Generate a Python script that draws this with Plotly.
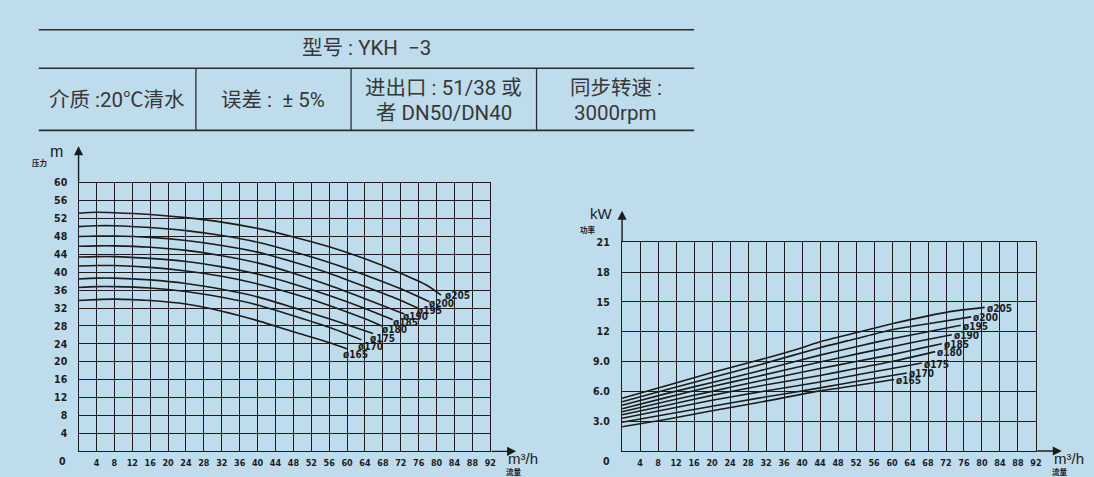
import plotly.graph_objects as go

# ---------------- data ----------------
impellers = ["205", "200", "195", "190", "185", "180", "175", "170", "165"]

# Head H (m) against flow Q (m3/h): (Q, H)
head_205 = [(0, 53.2), (4, 53.4), (8, 53.3), (16, 52.9), (24, 52.2), (32, 51.2), (40, 49.8), (48, 47.9), (56, 45.7), (64, 43.0), (72, 39.8), (78, 37.0), (81, 34.9)]
head_200 = [(0, 50.2), (4, 50.4), (8, 50.4), (16, 50.0), (24, 49.3), (32, 48.2), (40, 46.7), (48, 44.6), (56, 42.2), (64, 39.4), (72, 36.3), (78.4, 33.4)]
head_195 = [(0, 48.0), (4, 48.1), (8, 48.1), (16, 47.8), (24, 47.1), (32, 46.0), (40, 44.5), (48, 42.3), (56, 39.8), (64, 36.8), (72, 33.7), (75.8, 32.0)]
head_190 = [(0, 45.8), (4, 45.9), (8, 45.9), (16, 45.6), (24, 44.9), (32, 43.7), (40, 42.1), (48, 39.8), (56, 37.1), (64, 34.1), (72.8, 30.7)]
head_185 = [(0, 43.4), (4, 43.5), (8, 43.5), (16, 43.1), (24, 42.4), (32, 41.2), (40, 39.6), (48, 37.4), (56, 34.8), (64, 31.9), (70.2, 29.4)]
head_180 = [(0, 41.4), (4, 41.5), (8, 41.5), (16, 41.1), (24, 40.3), (32, 39.1), (40, 37.4), (48, 35.2), (56, 32.6), (64, 29.6), (68, 27.9)]
head_175 = [(0, 38.5), (4, 38.7), (8, 38.7), (16, 38.3), (24, 37.5), (32, 36.2), (40, 34.5), (48, 32.1), (56, 29.6), (65.8, 26.3)]
head_170 = [(0, 36.6), (4, 36.8), (8, 36.8), (16, 36.5), (24, 35.7), (32, 34.4), (40, 32.7), (48, 30.3), (56, 27.7), (63.2, 24.9)]
head_165 = [(0, 33.7), (4, 33.9), (8, 34.0), (16, 33.7), (24, 32.9), (32, 31.3), (40, 29.2), (48, 26.7), (56, 24.3), (60.2, 22.8)]

# Shaft power P (kW) against flow Q (m3/h): (Q, P)
power_205 = [(0, 5.3), (10, 6.6), (20, 7.9), (30, 9.1), (40, 10.4), (44, 11.0), (52, 11.9), (60, 12.8), (68, 13.6), (74, 14.1), (80.6, 14.45)]
power_200 = [(0, 4.95), (10, 6.2), (20, 7.4), (30, 8.6), (44, 10.4), (52, 11.3), (60, 12.2), (68, 12.8), (77.6, 13.5)]
power_195 = [(0, 4.6), (10, 5.8), (20, 6.9), (30, 8.0), (44, 9.65), (52, 10.5), (60, 11.3), (68, 12.0), (75.3, 12.65)]
power_190 = [(0, 4.25), (10, 5.4), (20, 6.5), (30, 7.5), (44, 8.95), (52, 9.75), (60, 10.5), (67, 11.15), (73.3, 11.7)]
power_185 = [(0, 3.95), (10, 5.0), (20, 6.0), (30, 7.0), (44, 8.3), (52, 9.0), (60, 9.7), (66, 10.3), (71.1, 10.8)]
power_180 = [(0, 3.65), (10, 4.6), (20, 5.6), (30, 6.5), (44, 7.6), (52, 8.3), (60, 9.0), (69.6, 10.0)]
power_175 = [(0, 3.3), (10, 4.2), (20, 5.1), (30, 5.9), (44, 6.95), (52, 7.65), (60, 8.3), (66.6, 8.85)]
power_170 = [(0, 2.9), (10, 3.7), (20, 4.5), (30, 5.3), (44, 6.35), (52, 7.0), (60, 7.6), (63.3, 7.85)]
power_165 = [(0, 2.45), (10, 3.2), (20, 4.05), (30, 4.85), (44, 6.05), (52, 6.6), (60.5, 7.2)]

flow_ticks = list(range(4, 93, 4))
head_ticks = list(range(4, 61, 4))
power_ticks = [3, 6, 9, 12, 15, 18, 21]
power_tick_text = ["3.0", "6.0", "9.0", "12", "15", "18", "21"]

table_title = "型号 : YKH  −3"
table_cells = ["介质 :20℃清水", "误差 :  ± 5%", ["进出口 : 51/38 或", "者 DN50/DN40"], ["同步转速 :", "3000rpm"]]

head_curves = [head_205, head_200, head_195, head_190, head_185, head_180, head_175, head_170, head_165]
power_curves = [power_205, power_200, power_195, power_190, power_185, power_180, power_175, power_170, power_165]

# ---------------- style ----------------
W, H = 1094, 477
BG = "#bedcec"
INK = "#1c1c1c"
TXT = "#383838"
NARROW = "DejaVu Sans Condensed, Liberation Sans, sans-serif"
UNITFONT = "Liberation Sans, Roboto, sans-serif"
TEXTFONT = "Roboto, Noto Sans CJK SC, sans-serif"
CJK = "Noto Sans CJK SC"

def px(x):
    return x / W

def py(y):
    return 1 - y / H

# plot boxes in pixels: left, right, top, bottom
L_BOX = (79, 493, 179, 451)
R_BOX = (625.5, 1041.7, 239.3, 450.7)

# per-label pixel nudges for the head-curve labels
head_label_shift = [(2, 0), (-2, -2), (-3, -2), (-3, -3), (-2, -3), (-3, -3), (-5, -5), (-5, -7), (-7, -5)]

fig = go.Figure()

for name, pts, (dx, dy) in zip(impellers, head_curves, head_label_shift):
    q = [p[0] for p in pts]
    h = [p[1] for p in pts]
    fig.add_trace(go.Scatter(x=q, y=h, mode="lines", xaxis="x", yaxis="y",
                             line=dict(color=INK, width=1.6, shape="spline", smoothing=0.6),
                             hoverinfo="skip", showlegend=False))
    fig.add_annotation(x=q[-1], y=h[-1], xref="x", yref="y", text="ø" + name, showarrow=False,
                       xanchor="left", yanchor="middle", xshift=dx, yshift=dy,
                       font=dict(family=NARROW, size=10, color=INK, weight="bold"))

for name, pts in zip(impellers, power_curves):
    q = [p[0] for p in pts]
    p_ = [p[1] for p in pts]
    fig.add_trace(go.Scatter(x=q, y=p_, mode="lines", xaxis="x2", yaxis="y2",
                             line=dict(color=INK, width=1.6, shape="spline", smoothing=0.6),
                             hoverinfo="skip", showlegend=False))
    fig.add_annotation(x=q[-1], y=p_[-1], xref="x2", yref="y2", text="ø" + name, showarrow=False,
                       xanchor="left", yanchor="middle", xshift=0, yshift=-1,
                       font=dict(family=NARROW, size=10, color=INK, weight="bold"))

tick_font_y = dict(family=NARROW, size=10.5, color=INK, weight="bold")
tick_font_x = dict(family=NARROW, size=9, color=INK, weight="bold")

common_x = dict(range=[0, 92], tickmode="array", tickvals=flow_ticks, ticktext=[str(t) for t in flow_ticks],
                showgrid=True, gridcolor=INK, gridwidth=1, showline=True, linecolor=INK, linewidth=1.4,
                mirror=True, zeroline=False, ticks="", tickfont=tick_font_x, ticklabelstandoff=3,
                fixedrange=True)

fig.update_layout(
    width=W, height=H, margin=dict(l=0, r=0, t=0, b=0),
    paper_bgcolor=BG, plot_bgcolor=BG, showlegend=False,
    xaxis=dict(domain=[px(L_BOX[0]), px(L_BOX[1])], anchor="y", **common_x),
    yaxis=dict(domain=[py(L_BOX[3]), py(L_BOX[2])], anchor="x", range=[0, 60], tickmode="array",
               tickvals=head_ticks, ticktext=[str(t) for t in head_ticks],
               showgrid=True, gridcolor=INK, gridwidth=1, showline=True, linecolor=INK, linewidth=1.4,
               mirror=True, zeroline=False, ticks="", tickfont=tick_font_y, ticklabelstandoff=8,
               fixedrange=True),
    xaxis2=dict(domain=[px(R_BOX[0]), px(R_BOX[1])], anchor="y2", **common_x),
    yaxis2=dict(domain=[py(R_BOX[3]), py(R_BOX[2])], anchor="x2", range=[0, 21], tickmode="array",
                tickvals=power_ticks, ticktext=power_tick_text,
                showgrid=True, gridcolor=INK, gridwidth=1, showline=True, linecolor=INK, linewidth=1.4,
                mirror=True, zeroline=False, ticks="", tickfont=tick_font_y, ticklabelstandoff=9,
                fixedrange=True),
)

# axis arrows and axis titles
for xa, ya, box in (("x", "y", L_BOX), ("x2", "y2", R_BOX)):
    bw = box[1] - box[0]
    bh = box[3] - box[2]
    up = 37 if xa == "x" else 32
    fig.add_annotation(x=0, y=1 + up / bh, xref=xa + " domain", yref=ya + " domain", text="",
                       showarrow=True, ax=0, ay=up, axref="pixel", ayref="pixel",
                       arrowhead=2, arrowsize=1.3, arrowwidth=1.4, arrowcolor=INK)
    fig.add_annotation(x=1 + 26 / bw, y=0, xref=xa + " domain", yref=ya + " domain", text="",
                       showarrow=True, ax=-26, ay=0, axref="pixel", ayref="pixel",
                       arrowhead=2, arrowsize=1.3, arrowwidth=1.4, arrowcolor=INK)
    fig.add_annotation(x=0, y=0, xref=xa + " domain", yref=ya + " domain", text="0", showarrow=False,
                       xanchor="center", yanchor="middle", xshift=-16, yshift=-10,
                       font=dict(family=NARROW, size=10.5, color=INK, weight="bold"))
    fig.add_annotation(x=1 + 33 / bw, y=0, xref=xa + " domain", yref=ya + " domain", text="m³/h",
                       showarrow=False, xanchor="center", yanchor="middle", yshift=-7,
                       font=dict(family=UNITFONT, size=15, color=INK))
    fig.add_annotation(x=1 + 24 / bw, y=0, xref=xa + " domain", yref=ya + " domain", text="流量",
                       showarrow=False, xanchor="center", yanchor="middle", yshift=-20,
                       font=dict(family=CJK, size=7.5, color=INK, weight="bold"))

fig.add_annotation(x=px(57), y=py(147), xref="paper", yref="paper", text="m", showarrow=False,
                   xanchor="center", yanchor="middle", font=dict(family=UNITFONT, size=16, color=INK))
fig.add_annotation(x=px(40), y=py(159), xref="paper", yref="paper", text="压力", showarrow=False,
                   xanchor="center", yanchor="middle", font=dict(family=CJK, size=7.5, color=INK, weight="bold"))
fig.add_annotation(x=px(605), y=py(210), xref="paper", yref="paper", text="kW", showarrow=False,
                   xanchor="center", yanchor="middle", font=dict(family=UNITFONT, size=15, color=INK))
fig.add_annotation(x=px(591), y=py(226), xref="paper", yref="paper", text="功率", showarrow=False,
                   xanchor="center", yanchor="middle", font=dict(family=CJK, size=7.5, color=INK, weight="bold"))

# ---------------- spec table ----------------
TBL_L, TBL_R = 39, 698
ROW_Y = [24, 63, 126]
COL_X = [197, 353, 539.5]
line_style = dict(color="#2e2e2e", width=1.6)
for y in ROW_Y:
    fig.add_shape(type="line", xref="paper", yref="paper", x0=px(TBL_L), x1=px(TBL_R), y0=py(y), y1=py(y),
                  line=line_style)
for x in COL_X:
    fig.add_shape(type="line", xref="paper", yref="paper", x0=px(x), x1=px(x), y0=py(ROW_Y[1]), y1=py(ROW_Y[2]),
                  line=dict(color="#2e2e2e", width=1.3))

tfont = dict(family=TEXTFONT, size=20.5, color=TXT)
fig.add_annotation(x=px(369), y=py(43), xref="paper", yref="paper", text=table_title, showarrow=False,
                   xanchor="center", yanchor="middle", font=tfont)
cell_centers = [118, 275, 446, 619]
for cx, cell in zip(cell_centers, table_cells):
    if isinstance(cell, list):
        for line, cy in zip(cell, (83, 108)):
            fig.add_annotation(x=px(cx), y=py(cy), xref="paper", yref="paper", text=line, showarrow=False,
                               xanchor="center", yanchor="middle", font=tfont)
    else:
        fig.add_annotation(x=px(cx), y=py(95), xref="paper", yref="paper", text=cell, showarrow=False,
                           xanchor="center", yanchor="middle", font=tfont)

fig.write_html("out.html", config={"displayModeBar": False},
               post_script="document.body.style.margin='0';document.body.style.overflow='hidden';")
